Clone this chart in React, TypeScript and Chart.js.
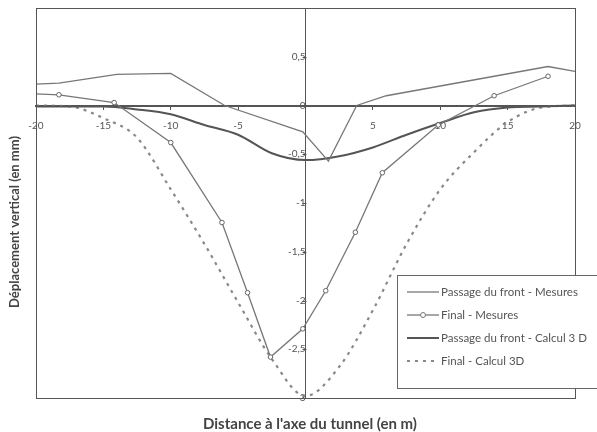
import React, { useEffect, useRef } from "react";
import { Chart, registerables } from "chart.js";

Chart.register(...registerables);

// ---- data ----
const frontMesX = [-20, -18.3, -14, -10, -6, -0.2, 1.7, 3.8, 6, 18, 20];
const frontMesY = [0.22, 0.23, 0.32, 0.33, 0.0, -0.27, -0.57, 0.0, 0.1, 0.4, 0.35];

const finalMesX = [-20, -18.3, -14.2, -10, -6.2, -4.3, -2.6, -0.2, 1.5, 3.7, 5.7, 9.85, 14, 18];
const finalMesY = [0.12, 0.11, 0.03, -0.38, -1.2, -1.92, -2.58, -2.29, -1.9, -1.3, -0.69, -0.2, 0.1, 0.3];

const calcX = [-20, -17.5, -15, -12.5, -10, -7.5, -5, -2.5, 0, 2.5, 5, 7.5, 10, 12.5, 15, 17.5, 20];
const frontCalcY = [-0.01, -0.01, -0.01, -0.04, -0.09, -0.2, -0.3, -0.49, -0.56, -0.52, -0.43, -0.3, -0.18, -0.07, -0.02, -0.01, 0];
const finalCalcY = [0, -0.01, -0.13, -0.33, -0.86, -1.42, -2.02, -2.6, -2.98, -2.68, -2.1, -1.42, -0.86, -0.48, -0.17, -0.02, 0];

const seriesNames = [
  "Passage du front - Mesures",
  "Final - Mesures",
  "Passage du front - Calcul 3 D",
  "Final - Calcul 3D",
];

const xTitle = "Distance à l'axe du tunnel (en m)";
const yTitle = "Déplacement vertical (en mm)";

const xMin = -20, xMax = 20, xStep = 5;
const yMin = -3, yMax = 1, yStep = 0.5;

const zip = (xs: number[], ys: number[]) => xs.map((x, i) => ({ x, y: ys[i] }));

const FONT = "Lato, 'Open Sans', sans-serif";
const INK = "#555";

const decorPlugin = {
  id: "decor",
  afterDraw(chart: any) {
    const { ctx, chartArea: a } = chart;
    const xs = chart.scales.x;
    const ys = chart.scales.y;
    ctx.save();
    // frame
    ctx.strokeStyle = INK;
    ctx.lineWidth = 1;
    ctx.strokeRect(a.left + 0.5, a.top + 0.5, a.right - a.left, a.bottom - a.top);

    // y tick marks (short, left of the vertical axis)
    const ax = Math.round(xs.getPixelForValue(0)) + 0.5;
    ctx.beginPath();
    ys.ticks.forEach((t: any) => {
      const py = Math.round(ys.getPixelForValue(t.value)) + 0.5;
      ctx.moveTo(ax - 4, py);
      ctx.lineTo(ax, py);
    });
    ctx.stroke();

    // axis titles
    ctx.fillStyle = "#444";
    ctx.font = `bold 15px ${FONT}`;
    ctx.textAlign = "center";
    ctx.textBaseline = "middle";
    ctx.fillText(xTitle, 310, a.bottom + 26);
    ctx.save();
    ctx.font = `bold 13px ${FONT}`;
    ctx.translate(15, 222);
    ctx.rotate(-Math.PI / 2);
    ctx.fillText(yTitle, 0, 0);
    ctx.restore();

    // legend
    const lx = a.right - 178;
    const ly = a.bottom - 123;
    const lw = 200;
    const lh = 113;
    ctx.fillStyle = "#fff";
    ctx.fillRect(lx, ly, lw, lh);
    ctx.strokeStyle = "#666";
    ctx.lineWidth = 1;
    ctx.strokeRect(lx + 0.5, ly + 0.5, lw, lh);
    const styles = [
      { w: 1.3, c: "#777", dash: [] as number[], marker: false },
      { w: 1.3, c: "#777", dash: [] as number[], marker: true },
      { w: 2, c: "#555", dash: [] as number[], marker: false },
      { w: 2.2, c: "#888", dash: [3, 5], marker: false },
    ];
    seriesNames.forEach((name, i) => {
      const y = ly + 17 + i * 23;
      const s = styles[i];
      ctx.strokeStyle = s.c;
      ctx.lineWidth = s.w;
      ctx.setLineDash(s.dash);
      ctx.beginPath();
      ctx.moveTo(lx + 10, y);
      ctx.lineTo(lx + 42, y);
      ctx.stroke();
      ctx.setLineDash([]);
      if (s.marker) {
        ctx.fillStyle = "#fff";
        ctx.beginPath();
        ctx.arc(lx + 26, y, 2.5, 0, Math.PI * 2);
        ctx.fill();
        ctx.lineWidth = 1;
        ctx.stroke();
      }
      ctx.fillStyle = INK;
      ctx.font = `11.5px ${FONT}`;
      ctx.textAlign = "left";
      ctx.textBaseline = "middle";
      ctx.fillText(name, lx + 44, y);
    });
    ctx.restore();
  },
};

export default function App() {
  const ref = useRef<HTMLCanvasElement | null>(null);

  useEffect(() => {
    document.body.style.margin = "0";
    const canvas = ref.current;
    if (!canvas) return;
    const chart = new Chart(canvas, {
      type: "line",
      data: {
        datasets: [
          {
            label: seriesNames[0],
            data: zip(frontMesX, frontMesY),
            borderColor: "#777",
            borderWidth: 1.3,
            pointRadius: 0,
            tension: 0,
          },
          {
            label: seriesNames[1],
            data: zip(finalMesX, finalMesY),
            borderColor: "#777",
            borderWidth: 1.3,
            pointRadius: (c: any) => (c.dataIndex === 0 ? 0 : 2.3),
            pointBackgroundColor: "#fff",
            pointBorderColor: "#666",
            pointBorderWidth: 1,
            tension: 0,
          },
          {
            label: seriesNames[2],
            data: zip(calcX, frontCalcY),
            borderColor: "#555",
            borderWidth: 2,
            pointRadius: 0,
            cubicInterpolationMode: "monotone",
          },
          {
            label: seriesNames[3],
            data: zip(calcX, finalCalcY),
            borderColor: "#888",
            borderWidth: 2.2,
            borderDash: [3, 5],
            pointRadius: 0,
            cubicInterpolationMode: "monotone",
          },
        ],
      } as any,
      options: {
        animation: false,
        responsive: false,
        maintainAspectRatio: false,
        layout: { padding: { left: 36, right: 22, top: 8, bottom: 34 } },
        plugins: { legend: { display: false }, tooltip: { enabled: false } },
        scales: {
          x: {
            type: "linear",
            min: xMin,
            max: xMax,
            position: { y: 0 } as any,
            border: { display: true, color: INK, width: 2 },
            grid: { display: true, drawOnChartArea: false, drawTicks: true, tickLength: 3, color: INK },
            ticks: {
              stepSize: xStep,
              autoSkip: false,
              maxRotation: 0,
              color: INK,
              font: { family: FONT, size: 10 },
              padding: 11,
              callback: (v: any) => (Number(v) === 0 ? "" : String(v)),
            },
          },
          y: {
            type: "linear",
            min: yMin,
            max: yMax,
            position: { x: 0 } as any,
            border: { display: true, color: INK, width: 1 },
            grid: { display: true, drawOnChartArea: false, drawTicks: true, tickLength: 9, tickColor: "rgba(0,0,0,0)" },
            ticks: {
              stepSize: yStep,
              autoSkip: false,
              color: INK,
              font: { family: FONT, size: 10 },
              padding: 0,
              callback: (v: any) => (Number(v) === yMax ? "" : String(v).replace(".", ",")),
            },
          },
        },
      } as any,
      plugins: [decorPlugin],
    });
    return () => chart.destroy();
  }, []);

  return (
    <div style={{ width: 597, height: 432, background: "#fff" }}>
      <canvas ref={ref} width={597} height={432} style={{ display: "block" }} />
    </div>
  );
}
